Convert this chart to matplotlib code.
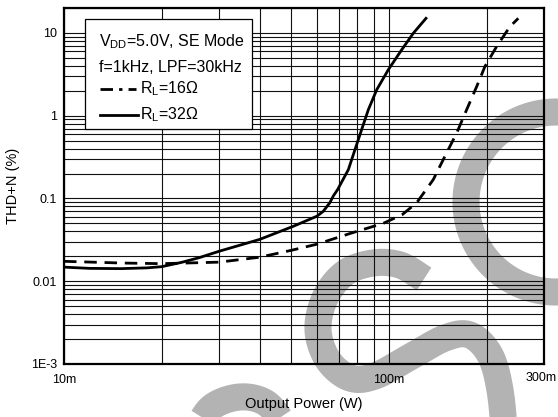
import numpy as np
import matplotlib
matplotlib.use("Agg")
import matplotlib.pyplot as plt
from matplotlib.lines import Line2D
from matplotlib.patches import Rectangle
from matplotlib.transforms import ScaledTranslation

plt.rcParams['font.family'] = ['Liberation Sans', 'DejaVu Sans']
plt.rcParams['mathtext.fontset'] = 'custom'
plt.rcParams['mathtext.rm'] = 'Liberation Sans'
plt.rcParams['mathtext.it'] = 'Liberation Sans'

# THD+N vs output power, VDD=5V, SE mode (power in W, THD+N in %)
p_16 = [0.010, 0.015, 0.020, 0.030, 0.040, 0.050, 0.060, 0.076, 0.096, 0.110,
        0.1217, 0.1369, 0.1487, 0.1616, 0.1734, 0.1862, 0.1974, 0.2144, 0.2356, 0.250]
thd_16 = [0.0174, 0.0166, 0.0163, 0.0170, 0.0195, 0.0236, 0.028, 0.0378, 0.050, 0.064,
          0.0887, 0.169, 0.324, 0.618, 1.18, 2.25, 3.93, 6.84, 11.9, 15.0]

p_32 = [0.010, 0.012, 0.015, 0.018, 0.020, 0.023, 0.026, 0.030, 0.040, 0.0507, 0.060,
        0.0628, 0.0658, 0.0674, 0.0695, 0.0750, 0.0786, 0.0824, 0.0864, 0.0917, 0.0995,
        0.1094, 0.1188, 0.130]
thd_32 = [0.0148, 0.0143, 0.0142, 0.0145, 0.0150, 0.0169, 0.0192, 0.023, 0.032, 0.046, 0.061,
          0.070, 0.089, 0.107, 0.128, 0.223, 0.389, 0.678, 1.18, 2.06, 3.58,
          6.24, 9.9, 15.0]

x_ticks = [0.01, 0.1, 0.3]
x_labels = ['10m', '100m', '300m']
y_ticks = [10, 1, 0.1, 0.01, 0.001]
y_labels = ['10', '1', '0.1', '0.01', '1E-3']

W, H = 558, 417
fig = plt.figure(figsize=(W / 100, H / 100), dpi=100)
fig.patch.set_facecolor('white')

# grey watermark strokes behind the plot (pixel coords, y down)
def px(pts):
    pts = np.asarray(pts, float)
    return pts[:, 0] / W, 1 - pts[:, 1] / H

def smooth(pts, n=20):
    pts = np.asarray(pts, float)
    pts = np.vstack([pts[0], pts, pts[-1]])
    out = []
    for i in range(1, len(pts) - 2):
        p0, p1, p2, p3 = pts[i - 1], pts[i], pts[i + 1], pts[i + 2]
        for t in np.linspace(0, 1, n, endpoint=False):
            out.append(0.5 * ((2 * p1) + (-p0 + p2) * t
                              + (2 * p0 - 5 * p1 + 4 * p2 - p3) * t ** 2
                              + (-p0 + 3 * p1 - 3 * p2 + p3) * t ** 3))
    out.append(pts[-2])
    return np.array(out)

wm = dict(color='#b3b3b3', lw=19.5, solid_capstyle='butt', zorder=-5)
ang = np.radians(np.linspace(75, 300, 120))
arc = np.column_stack([556 + 90 * np.cos(ang), 202 - 90 * np.sin(ang)])
fig.add_artist(Line2D(*px(arc), transform=fig.transFigure, **wm))
s_mid = [(424, 279), (400, 265), (373, 263), (345, 273), (325, 298), (318, 330),
         (328, 360), (350, 378), (375, 376), (410, 357), (445, 338), (470, 335),
         (490, 355), (500, 390), (505, 440)]
fig.add_artist(Line2D(*px(smooth(s_mid)), transform=fig.transFigure, **wm))
s_low = [(195, 432), (212, 407), (240, 397), (266, 403), (284, 425), (290, 440)]
fig.add_artist(Line2D(*px(smooth(s_low)), transform=fig.transFigure, **wm))

ax = fig.add_axes([64 / W, 1 - 364 / H, 480 / W, 356 / H])
ax.set_facecolor('none')
ax.set_xscale('log')
ax.set_yscale('log')
ax.set_xlim(0.01, 0.3)
ax.set_ylim(0.001, 20)

ax.plot(p_16, thd_16, color='black', lw=2.0, dashes=(4.5, 2.8), zorder=4)
ax.plot(p_32, thd_32, color='black', lw=2.0, zorder=4)

ax.set_xticks(x_ticks)
ax.set_xticklabels(x_labels)
ax.set_yticks(y_ticks)
ax.set_yticklabels(y_labels)
ax.xaxis.set_minor_formatter(plt.NullFormatter())
ax.yaxis.set_minor_formatter(plt.NullFormatter())
ax.tick_params(which='both', length=0, labelsize=9)
ax.tick_params(axis='x', pad=7)
ax.tick_params(axis='y', pad=5)
ax.grid(True, which='both', color='#111111', lw=0.8)
for s in ax.spines.values():
    s.set_linewidth(1.6)

# keep the last x label inside the canvas
last = ax.get_xticklabels()[-1]
last.set_transform(last.get_transform() + ScaledTranslation(-0.03, 0.02, fig.dpi_scale_trans))

ax.set_xlabel('Output Power (W)', fontsize=10.5, labelpad=8)
ax.set_ylabel('THD+N (%)', fontsize=10.5, labelpad=8)

# legend box with test conditions
bx0, by0 = (85 - 64) / 480, (364 - 129) / 356
bx1, by1 = (252 - 64) / 480, (364 - 19) / 356
ax.add_patch(Rectangle((bx0, by0), bx1 - bx0, by1 - by0, transform=ax.transAxes,
                       facecolor='white', edgecolor='black', lw=0.9, zorder=6))

def ay(y):
    return (364 - y) / 356

def axx(x):
    return (x - 64) / 480

tkw = dict(transform=ax.transAxes, fontsize=11.5, va='center', ha='left', zorder=7)
ax.text(axx(99), ay(42), r'V$_{\mathrm{DD}}$=5.0V, SE Mode', **tkw)
ax.text(axx(99), ay(68), 'f=1kHz, LPF=30kHz', **tkw)
ax.add_line(Line2D([axx(100), axx(136)], [ay(89), ay(89)], transform=ax.transAxes,
                   color='black', lw=2.0, dashes=(4.5, 2.2, 1.2, 2.2), zorder=7))
ax.text(axx(140), ay(89), r'R$_{\mathrm{L}}$=16Ω', **tkw)
ax.add_line(Line2D([axx(100), axx(138)], [ay(115), ay(115)], transform=ax.transAxes,
                   color='black', lw=2.0, zorder=7))
ax.text(axx(140), ay(115), r'R$_{\mathrm{L}}$=32Ω', **tkw)

fig.savefig('out.png', dpi=100)
